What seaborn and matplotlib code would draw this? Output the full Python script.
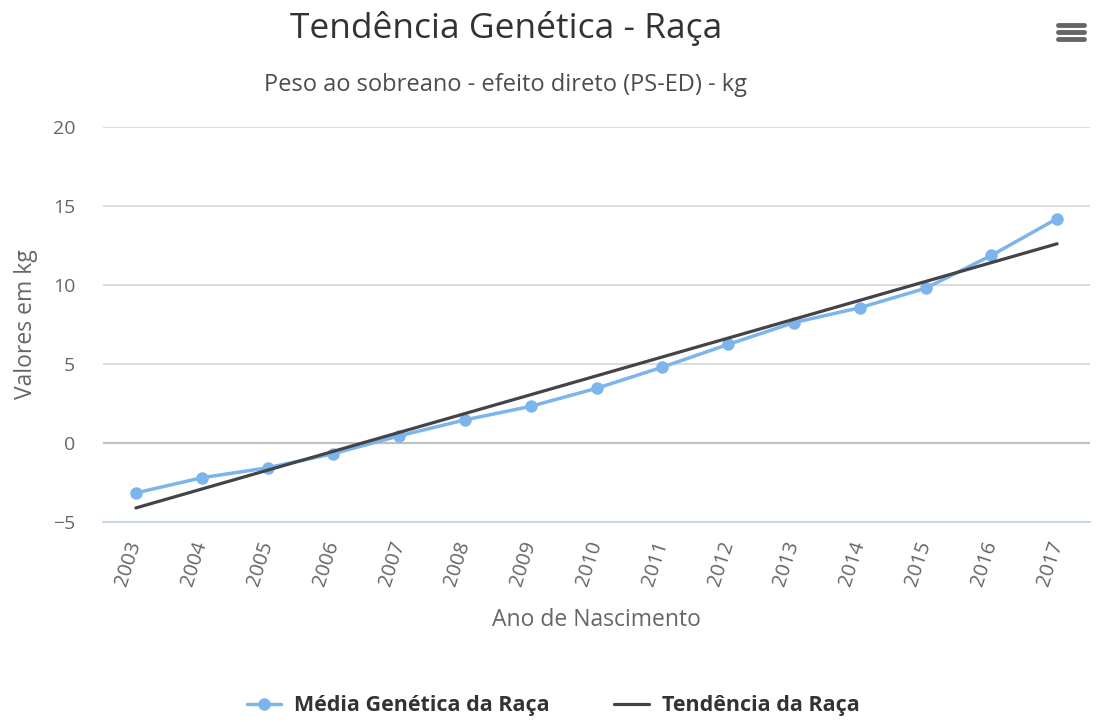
import matplotlib
matplotlib.use("Agg")
import matplotlib.pyplot as plt
from matplotlib.lines import Line2D
import seaborn as sns
import pandas as pd

# values
years = [2003, 2004, 2005, 2006, 2007, 2008, 2009, 2010, 2011, 2012, 2013, 2014, 2015, 2016, 2017]
media_genetica = [-3.16, -2.2, -1.57, -0.68, 0.45, 1.46, 2.32, 3.46, 4.8, 6.24, 7.62, 8.56, 9.79, 11.87, 14.2]
trend_years = [2003, 2017]
trend_values = [-4.11, 12.61]
y_ticks = [-5, 0, 5, 10, 15, 20]

sns.set_theme(style="white")
plt.rcParams['font.family'] = ['Open Sans', 'DejaVu Sans']

df_media = pd.DataFrame({"ano": years, "valor": media_genetica})
df_trend = pd.DataFrame({"ano": trend_years, "valor": trend_values})

fig = plt.figure(figsize=(10.97, 7.22), dpi=100)
ax = fig.add_axes([103/1097, 1 - 522/722, (1090 - 103)/1097, (522 - 127)/722])

sns.lineplot(data=df_media, x="ano", y="valor", ax=ax, color="#7cb5ec", linewidth=2.5,
             marker="o", markersize=9, markeredgewidth=0, label="Média Genética da Raça", zorder=3)
sns.lineplot(data=df_trend, x="ano", y="valor", ax=ax, color="#434348", linewidth=2.3,
             label="Tendência da Raça", zorder=4)

ax.set_xlim(years[0] - 0.5, years[-1] + 0.5)
ax.set_ylim(-5, 20)

# grid
for t in y_ticks[1:]:
    ax.axhline(t, color="#d9d9d9", linewidth=1.3, zorder=1)
ax.axhline(0, color="#c0c0c0", linewidth=1.6, zorder=1)

for side in ["top", "right", "left"]:
    ax.spines[side].set_visible(False)
ax.spines["bottom"].set_color("#ccd6eb")
ax.spines["bottom"].set_linewidth(1.5)

ax.set_yticks(y_ticks)
ax.tick_params(axis="y", length=0, pad=20, labelsize=14, labelcolor="#666666")

ax.set_xticks(years)
ax.set_xticklabels([str(y) for y in years], rotation=72, ha="right", va="center",
                   rotation_mode="anchor")
ax.tick_params(axis="x", which="major", length=0, pad=14, labelsize=14.5, labelcolor="#666666")
ax.set_xticks([y - 0.5 for y in years] + [years[-1] + 0.5], minor=True)
ax.tick_params(axis="x", which="minor", length=11, width=1.3, color="#ccd6eb", direction="out")

ax.set_xlabel("Ano de Nascimento", fontsize=16.5, color="#666666", labelpad=14)
ax.set_ylabel("Valores em kg", fontsize=16.5, color="#666666")
ax.yaxis.set_label_coords(-0.066, 0.5)

ax.get_legend().remove()
handles, labels = ax.get_legend_handles_labels()
fig.legend(handles, labels, loc="center", bbox_to_anchor=(553/1097, 1 - 706/722), ncol=2,
           frameon=False, prop={"weight": "bold", "size": 15.5}, labelcolor="#333333",
           handlelength=1.6, handletextpad=0.6, columnspacing=3.0)

fig.text(506/1097, 1 - 28/722, "Tendência Genética - Raça", ha="center", va="center",
         fontsize=25.5, color="#333333")
fig.text(505/1097, 1 - 85/722, "Peso ao sobreano - efeito direto (PS-ED) - kg", ha="center",
         va="center", fontsize=17, color="#4d4d4d")

# menu icon
for yy in [25, 32, 39]:
    fig.add_artist(Line2D([1058/1097, 1084/1097], [1 - yy/722, 1 - yy/722], color="#666666",
                          linewidth=3.5, solid_capstyle="round"))

fig.savefig("out.png", dpi=100)
